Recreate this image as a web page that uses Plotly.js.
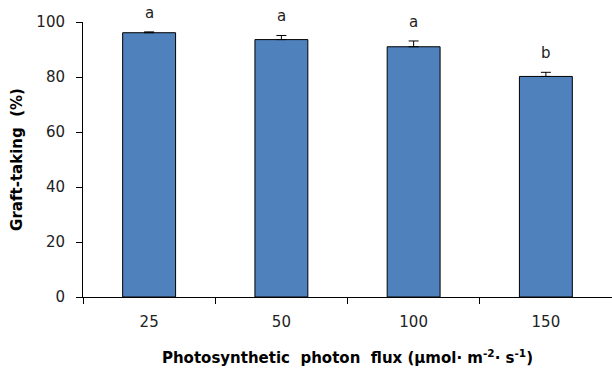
<!DOCTYPE html>
<html>
<head>
<meta charset="utf-8">
<script src="https://cdn.plot.ly/plotly-3.0.1.min.js"></script>
<style>html,body{margin:0;padding:0;background:#fff;}#chart{width:612px;height:371px;}</style>
</head>
<body>
<div id="chart"></div>
<script>
const categories = ["25", "50", "100", "150"];
const values = [96.1, 93.6, 91.0, 80.2];
const errors = [0.3, 1.5, 2.1, 1.5];
const letters = ["a", "a", "a", "b"];
const yTicks = [0, 20, 40, 60, 80, 100];

const trace = {
  type: "bar",
  x: categories,
  y: values,
  width: 0.4,
  marker: {color: "#4F81BD", line: {color: "#000000", width: 1}},
  error_y: {type: "data", array: errors, visible: true, symmetric: false, arrayminus: errors.map(() => 0), color: "#000000", thickness: 1, width: 5},
  hoverinfo: "none"
};

const annotations = categories.map((c, i) => ({
  x: i, y: values[i] + errors[i], xref: "x", yref: "y",
  text: letters[i], showarrow: false, yanchor: "bottom", yshift: 8,
  font: {family: "DejaVu Sans, Verdana, sans-serif", size: 15, color: "#222"}
}));

const layout = {
  width: 612, height: 371,
  margin: {l: 83, r: 0, t: 22, b: 74},
  paper_bgcolor: "#fff", plot_bgcolor: "#fff",
  showlegend: false,
  font: {family: "DejaVu Sans, Verdana, sans-serif", size: 15, color: "#222"},
  xaxis: {
    type: "category",
    range: [-0.5, 3.5],
    showline: true, linecolor: "#000", linewidth: 1,
    ticks: "outside", tickson: "boundaries", ticklen: 6, tickcolor: "#000", tickwidth: 1,
    ticklabelstandoff: 11,
    showgrid: false, zeroline: false,
    tickfont: {size: 15, color: "#222"},
    title: {text: "<b>Photosynthetic  photon  flux (μmol· m<sup>-2</sup>· s<sup>-1</sup>)</b>", font: {size: 15, color: "#000"}, standoff: 22}
  },
  yaxis: {
    range: [0, 100],
    tickvals: yTicks,
    showline: true, linecolor: "#000", linewidth: 1,
    ticks: "outside", ticklen: 6, tickcolor: "#000", tickwidth: 1,
    ticklabelstandoff: 8,
    showgrid: false, zeroline: false,
    tickfont: {size: 15, color: "#222"},
    title: {text: "<b>Graft-taking  (%)</b>", font: {size: 15, color: "#000"}, standoff: 10}
  },
  annotations: annotations
};

Plotly.newPlot("chart", [trace], layout, {displayModeBar: false, staticPlot: true});
</script>
</body>
</html>
